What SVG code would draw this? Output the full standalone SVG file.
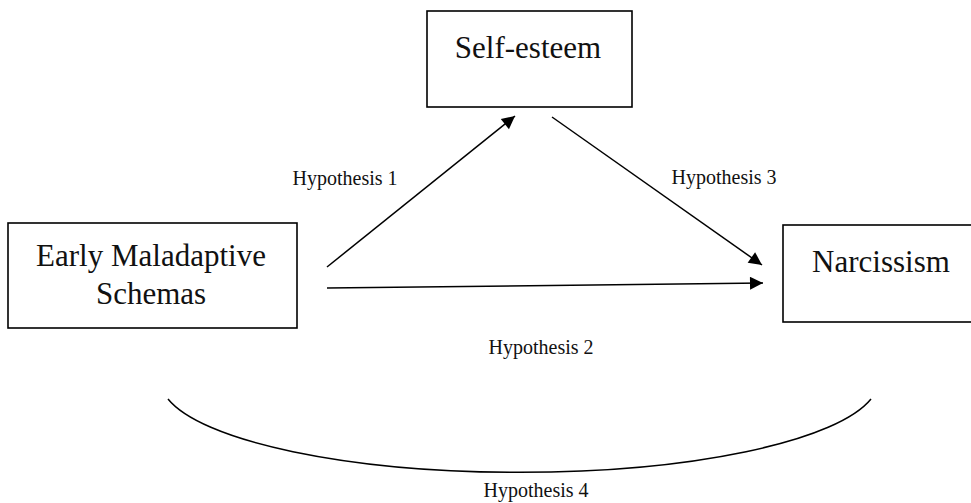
<svg xmlns="http://www.w3.org/2000/svg" width="971" height="503" viewBox="0 0 971 503">
<defs>
<style>
.box{fill:#fff;stroke:#000;stroke-width:1.6}
.t{font-family:"Liberation Serif","Times New Roman",serif;font-size:31px;fill:#111;text-anchor:middle}
.h{font-family:"Liberation Serif","Times New Roman",serif;font-size:20px;fill:#111;text-anchor:middle}
.c{fill:none;stroke:#000;stroke-width:1.5}
</style>
<marker id="ah" viewBox="0 0 10 10" refX="10" refY="5" markerWidth="15" markerHeight="13" markerUnits="userSpaceOnUse" orient="auto">
<path d="M0,0 L10,5 L0,10 z" fill="#000"/>
</marker>
</defs>
<rect width="971" height="503" fill="#fff"/>
<g id="self-esteem">
<rect class="box" x="427" y="11" width="205" height="96"/>
<text class="t" x="528" y="58">Self-esteem</text>
</g>
<g id="ems">
<rect class="box" x="8" y="223" width="289" height="105"/>
<text class="t" x="151" y="266">Early Maladaptive</text>
<text class="t" x="151" y="304">Schemas</text>
</g>
<g id="narcissism">
<rect class="box" x="783" y="225" width="200" height="97"/>
<text class="t" x="881" y="272">Narcissism</text>
</g>
<g id="connectors">
<line class="c" x1="327" y1="267" x2="515" y2="116" marker-end="url(#ah)"/>
<line class="c" x1="327" y1="288" x2="763" y2="283" marker-end="url(#ah)"/>
<line class="c" x1="552" y1="117" x2="762" y2="265" marker-end="url(#ah)"/>
<path class="c" d="M168,399 A359,92 0 0 0 871,399"/>
</g>
<g id="labels">
<text class="h" x="345" y="185">Hypothesis 1</text>
<text class="h" x="541" y="354">Hypothesis 2</text>
<text class="h" x="724" y="184">Hypothesis 3</text>
<text class="h" x="536" y="497">Hypothesis 4</text>
</g>
</svg>
